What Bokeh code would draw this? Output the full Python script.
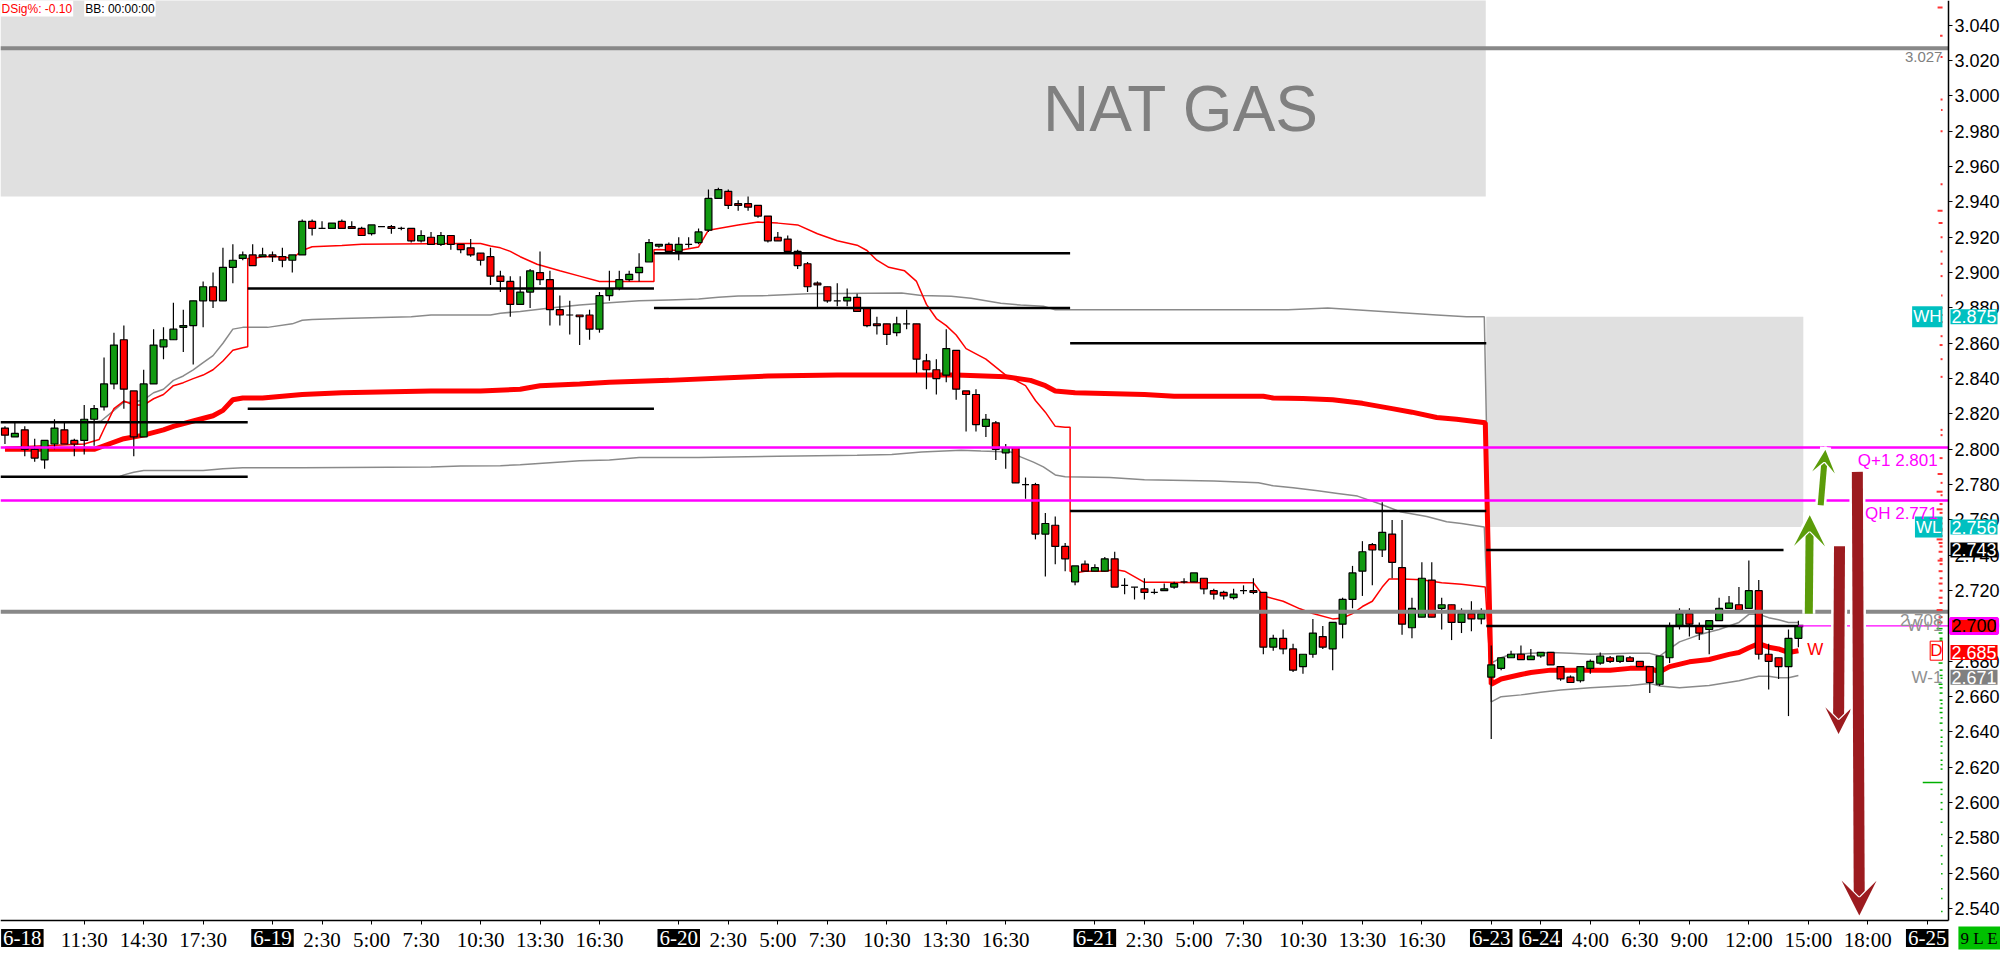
from bokeh.plotting import figure
from bokeh.models import (Range1d, FixedTicker, NumeralTickFormatter, Label,
                          Arrow, VeeHead, ColumnDataSource)
from bokeh.embed import file_html
from bokeh.resources import INLINE

# ---------------- candle data (30-min bars, NAT GAS) ----------------
opens = [2.812, 2.807, 2.811, 2.800, 2.794, 2.803, 2.811, 2.805, 2.805, 2.817,
         2.824, 2.837, 2.862, 2.833, 2.807, 2.837, 2.858, 2.862, 2.869, 2.870,
         2.884, 2.892, 2.884, 2.903, 2.908, 2.910, 2.909, 2.910, 2.909, 2.907,
         2.910, 2.929, 2.925, 2.925, 2.929, 2.926, 2.925, 2.922, 2.926, 2.926,
         2.925, 2.925, 2.918, 2.920, 2.916, 2.921, 2.916, 2.914, 2.911, 2.909,
         2.898, 2.895, 2.882, 2.889, 2.900, 2.896, 2.879, 2.876, 2.876, 2.876,
         2.868, 2.887, 2.891, 2.896, 2.900, 2.906, 2.915, 2.916, 2.912, 2.916,
         2.917, 2.924, 2.942, 2.946, 2.939, 2.939, 2.938, 2.932, 2.920, 2.919,
         2.912, 2.905, 2.894, 2.892, 2.884, 2.884, 2.886, 2.880, 2.871, 2.871,
         2.866, 2.871, 2.871, 2.850, 2.845, 2.842, 2.856, 2.833, 2.831, 2.813,
         2.815, 2.798, 2.801, 2.780, 2.780, 2.752, 2.757, 2.745, 2.725, 2.735,
         2.731, 2.731, 2.738, 2.723, 2.722, 2.721, 2.719, 2.720, 2.722, 2.725,
         2.725, 2.727, 2.720, 2.719, 2.716, 2.720, 2.720, 2.719, 2.688, 2.693,
         2.687, 2.677, 2.684, 2.694, 2.687, 2.701, 2.715, 2.731, 2.746, 2.743,
         2.752, 2.733, 2.699, 2.705, 2.726, 2.710, 2.712, 2.702, 2.707, 2.704,
         2.671, 2.676, 2.682, 2.684, 2.681, 2.683, 2.685, 2.677, 2.671, 2.669,
         2.676, 2.679, 2.682, 2.680, 2.682, 2.680, 2.677, 2.667, 2.682, 2.700,
         2.707, 2.700, 2.698, 2.703, 2.710, 2.712, 2.710, 2.720, 2.684, 2.682,
         2.677, 2.693]
highs = [2.813, 2.815, 2.813, 2.806, 2.805, 2.817, 2.815, 2.806, 2.825, 2.825,
         2.852, 2.866, 2.870, 2.833, 2.845, 2.868, 2.869, 2.883, 2.879, 2.884,
         2.895, 2.900, 2.914, 2.916, 2.912, 2.916, 2.914, 2.912, 2.914, 2.910,
         2.930, 2.930, 2.929, 2.928, 2.930, 2.929, 2.926, 2.927, 2.926, 2.927,
         2.926, 2.925, 2.924, 2.923, 2.923, 2.921, 2.916, 2.919, 2.911, 2.914,
         2.901, 2.898, 2.898, 2.902, 2.912, 2.901, 2.887, 2.884, 2.876, 2.879,
         2.889, 2.901, 2.901, 2.901, 2.911, 2.919, 2.916, 2.917, 2.920, 2.920,
         2.925, 2.947, 2.948, 2.947, 2.941, 2.943, 2.938, 2.932, 2.923, 2.921,
         2.913, 2.906, 2.895, 2.892, 2.894, 2.891, 2.888, 2.880, 2.875, 2.871,
         2.875, 2.879, 2.871, 2.854, 2.851, 2.868, 2.856, 2.833, 2.834, 2.820,
         2.816, 2.803, 2.801, 2.784, 2.781, 2.764, 2.762, 2.747, 2.734, 2.737,
         2.735, 2.739, 2.742, 2.727, 2.722, 2.727, 2.721, 2.724, 2.725, 2.727,
         2.730, 2.727, 2.721, 2.720, 2.721, 2.723, 2.727, 2.719, 2.695, 2.698,
         2.690, 2.684, 2.704, 2.700, 2.702, 2.716, 2.734, 2.748, 2.747, 2.770,
         2.760, 2.760, 2.716, 2.736, 2.736, 2.716, 2.712, 2.710, 2.714, 2.710,
         2.689, 2.682, 2.686, 2.689, 2.687, 2.685, 2.685, 2.677, 2.672, 2.677,
         2.681, 2.685, 2.683, 2.683, 2.683, 2.680, 2.677, 2.683, 2.702, 2.710,
         2.710, 2.702, 2.703, 2.716, 2.717, 2.722, 2.737, 2.726, 2.690, 2.682,
         2.698, 2.703]
lows = [2.803, 2.807, 2.796, 2.793, 2.789, 2.800, 2.803, 2.796, 2.797, 2.802,
        2.822, 2.834, 2.823, 2.796, 2.807, 2.837, 2.851, 2.862, 2.855, 2.848,
        2.869, 2.880, 2.884, 2.894, 2.907, 2.904, 2.909, 2.906, 2.903, 2.900,
        2.910, 2.921, 2.925, 2.925, 2.925, 2.925, 2.921, 2.921, 2.926, 2.922,
        2.924, 2.917, 2.917, 2.916, 2.915, 2.913, 2.911, 2.909, 2.904, 2.893,
        2.889, 2.875, 2.882, 2.880, 2.893, 2.870, 2.870, 2.865, 2.859, 2.862,
        2.866, 2.884, 2.890, 2.895, 2.895, 2.906, 2.914, 2.912, 2.907, 2.914,
        2.916, 2.923, 2.942, 2.936, 2.935, 2.935, 2.931, 2.917, 2.918, 2.912,
        2.902, 2.889, 2.880, 2.883, 2.881, 2.881, 2.878, 2.869, 2.865, 2.859,
        2.864, 2.868, 2.843, 2.834, 2.831, 2.838, 2.828, 2.810, 2.810, 2.807,
        2.794, 2.789, 2.781, 2.772, 2.749, 2.728, 2.735, 2.731, 2.723, 2.731,
        2.731, 2.731, 2.722, 2.718, 2.715, 2.715, 2.718, 2.720, 2.721, 2.724,
        2.725, 2.718, 2.715, 2.715, 2.715, 2.718, 2.718, 2.684, 2.686, 2.684,
        2.674, 2.673, 2.682, 2.687, 2.675, 2.693, 2.710, 2.717, 2.723, 2.739,
        2.727, 2.695, 2.693, 2.705, 2.705, 2.698, 2.692, 2.696, 2.697, 2.701,
        2.636, 2.675, 2.682, 2.681, 2.681, 2.682, 2.678, 2.669, 2.668, 2.668,
        2.673, 2.678, 2.679, 2.679, 2.680, 2.677, 2.662, 2.666, 2.679, 2.698,
        2.694, 2.692, 2.684, 2.703, 2.710, 2.709, 2.710, 2.681, 2.664, 2.670,
        2.649, 2.688]
closes = [2.808, 2.809, 2.800, 2.795, 2.805, 2.812, 2.803, 2.803, 2.817, 2.823,
          2.837, 2.859, 2.834, 2.807, 2.837, 2.859, 2.862, 2.868, 2.870, 2.884,
          2.892, 2.884, 2.903, 2.907, 2.910, 2.904, 2.910, 2.909, 2.907, 2.910,
          2.929, 2.925, 2.925, 2.928, 2.925, 2.925, 2.921, 2.927, 2.926, 2.925,
          2.925, 2.918, 2.921, 2.916, 2.921, 2.916, 2.913, 2.910, 2.907, 2.898,
          2.895, 2.882, 2.889, 2.901, 2.896, 2.879, 2.876, 2.876, 2.875, 2.868,
          2.887, 2.891, 2.896, 2.899, 2.903, 2.917, 2.916, 2.912, 2.916, 2.916,
          2.923, 2.942, 2.947, 2.938, 2.938, 2.937, 2.932, 2.918, 2.918, 2.912,
          2.904, 2.892, 2.893, 2.884, 2.884, 2.886, 2.878, 2.870, 2.870, 2.865,
          2.871, 2.871, 2.851, 2.845, 2.840, 2.857, 2.834, 2.831, 2.814, 2.817,
          2.800, 2.801, 2.781, 2.780, 2.752, 2.758, 2.745, 2.738, 2.734, 2.731,
          2.733, 2.738, 2.722, 2.723, 2.722, 2.719, 2.719, 2.721, 2.724, 2.725,
          2.730, 2.721, 2.718, 2.717, 2.718, 2.720, 2.719, 2.688, 2.693, 2.687,
          2.675, 2.684, 2.696, 2.688, 2.702, 2.715, 2.730, 2.742, 2.743, 2.753,
          2.736, 2.701, 2.710, 2.727, 2.705, 2.712, 2.702, 2.707, 2.704, 2.707,
          2.678, 2.682, 2.684, 2.681, 2.683, 2.685, 2.678, 2.670, 2.668, 2.677,
          2.680, 2.683, 2.680, 2.683, 2.680, 2.677, 2.668, 2.683, 2.700, 2.707,
          2.701, 2.696, 2.703, 2.710, 2.713, 2.709, 2.720, 2.684, 2.680, 2.677,
          2.693, 2.700]

# ---------------- indicator lines (bar index, price) ----------------
dvwap_x = [0, 4, 8, 9.5, 10, 11, 12, 13, 14, 15, 16, 17, 18, 19, 20, 21, 22, 23, 24, 24.5,
           24.5, 25, 26, 28, 29, 30, 31, 34, 36, 46, 48, 49, 50, 51, 52, 53.7, 56, 58, 60, 65.5,
           65.5, 66, 68, 70, 71, 72, 74, 76, 78, 80, 82, 84, 86, 87, 88, 89.2, 90.8, 92, 93, 94,
           95, 96, 97, 99, 101, 102, 103, 104, 105, 106, 107, 107.5,
           107.5, 108, 109, 111, 112, 113, 115, 117, 121, 124, 126, 127, 129, 130.7, 132, 134,
           135, 136, 137, 138, 139, 139.7, 141, 143, 145, 147, 149.4, 150]
dvwap_y = [2.801, 2.802, 2.803, 2.8055, 2.8115, 2.823, 2.8273, 2.825, 2.825, 2.8286, 2.831,
           2.836, 2.8377, 2.840, 2.842, 2.845, 2.850, 2.856, 2.8575, 2.858,
           2.908, 2.908, 2.909, 2.909, 2.908, 2.9125, 2.9146, 2.9153, 2.916, 2.9165, 2.9165,
           2.915, 2.914, 2.912, 2.909, 2.9047, 2.901, 2.898, 2.895, 2.895,
           2.913, 2.9131, 2.9125, 2.9145, 2.924, 2.925, 2.927, 2.9286, 2.928, 2.927, 2.922,
           2.918, 2.9155, 2.9125, 2.907, 2.903, 2.901, 2.895, 2.882, 2.874, 2.870, 2.8647,
           2.857, 2.851, 2.842, 2.839, 2.836, 2.8276, 2.821, 2.813, 2.8125, 2.8125,
           2.731, 2.730, 2.731, 2.731, 2.732, 2.731, 2.7247, 2.7247, 2.7245, 2.7245, 2.7245,
           2.717, 2.714, 2.7097, 2.707, 2.704, 2.7045, 2.707, 2.711, 2.714, 2.722, 2.7266,
           2.7266, 2.7262, 2.7245, 2.7236, 2.722, 2.667]

wvwap_x = [0, 9, 10, 12, 14, 16, 17, 19, 21, 22, 23, 24, 26, 28, 30, 34, 43, 48, 52, 54, 58,
           61, 67, 73, 77, 84, 96, 101, 103.5, 105, 106, 108, 115, 118, 127, 128, 131, 134,
           137, 140, 142, 144.5, 146.5, 149.4,
           150, 151, 153, 154, 156, 162, 164, 166, 167, 168, 170, 172, 174, 175, 176, 177,
           178, 179, 180, 181]
wvwap_y = [2.800, 2.800, 2.802, 2.806, 2.808, 2.811, 2.813, 2.816, 2.819, 2.822, 2.828, 2.829,
           2.829, 2.830, 2.831, 2.832, 2.833, 2.833, 2.834, 2.836, 2.837, 2.838, 2.839, 2.8405,
           2.8415, 2.842, 2.842, 2.841, 2.839, 2.836, 2.833, 2.832, 2.831, 2.830, 2.830, 2.829,
           2.8287, 2.828, 2.826, 2.823, 2.821, 2.818, 2.817, 2.815,
           2.667, 2.670, 2.6725, 2.6737, 2.675, 2.675, 2.676, 2.676, 2.674, 2.677, 2.6797,
           2.681, 2.6839, 2.685, 2.6877, 2.690, 2.688, 2.687, 2.685, 2.686]

upper_x = [0, 9, 9.7, 11, 12, 13, 14, 15, 16, 17, 18, 19, 20, 21, 22, 23, 24, 26.5, 29, 30,
           31, 34, 41, 43, 49, 50, 52, 55, 58, 61, 64, 67, 70, 72, 74, 77, 81, 90.5, 92.5,
           95.5, 97.5, 100.5, 102.5, 104.8, 106, 129.5, 133.5, 144.5, 147.5, 149.3,
           150, 151, 152, 154, 156, 158, 160, 164, 166, 167, 168, 169, 170, 171, 172, 173,
           174, 175, 176, 177, 178, 179, 180, 181]
upper_y = [2.8153, 2.8153, 2.816, 2.822, 2.8266, 2.8266, 2.828, 2.832, 2.834, 2.839, 2.8415,
           2.845, 2.849, 2.853, 2.860, 2.868, 2.869, 2.869, 2.871, 2.873, 2.8735, 2.874,
           2.875, 2.876, 2.876, 2.877, 2.878, 2.880, 2.8816, 2.883, 2.884, 2.8845, 2.885,
           2.886, 2.8867, 2.887, 2.888, 2.8884, 2.887, 2.8866, 2.8855, 2.8827, 2.8816,
           2.881, 2.879, 2.879, 2.8799, 2.876, 2.875, 2.875,
           2.679, 2.682, 2.684, 2.6845, 2.685, 2.6845, 2.684, 2.6845, 2.6845, 2.683, 2.687,
           2.691, 2.693, 2.695, 2.6966, 2.698, 2.700, 2.702, 2.7066, 2.7066, 2.7047, 2.7035,
           2.702, 2.702]

lower_x = [0, 11.5, 12, 13, 14, 20, 22, 24, 30, 43, 46, 50, 52, 55, 58, 61, 64, 70, 78, 86,
           89.5, 92.5, 96.5, 98.5, 101.5, 102.5, 103.8, 104.8, 106, 107, 111.5, 115, 122,
           126.5, 128, 130, 132.5, 134.5, 136.5, 138.8, 140.8, 143.5, 145.5, 147, 149.3,
           150, 151, 153, 155, 157, 160, 164, 166, 167, 169, 172, 175, 177, 178, 179, 180, 181]
lower_y = [2.7844, 2.7844, 2.7855, 2.787, 2.788, 2.788, 2.789, 2.7896, 2.7896, 2.790, 2.7905,
           2.7907, 2.7913, 2.7924, 2.7935, 2.794, 2.7953, 2.7953, 2.796, 2.7966, 2.797,
           2.7985, 2.7995, 2.799, 2.7985, 2.7957, 2.7927, 2.790, 2.7855, 2.7844, 2.784,
           2.7827, 2.782, 2.781, 2.7793, 2.7782, 2.7765, 2.775, 2.7735, 2.769, 2.7647,
           2.762, 2.759, 2.758, 2.756,
           2.657, 2.660, 2.661, 2.6625, 2.6637, 2.665, 2.6663, 2.6675, 2.666, 2.665, 2.6663,
           2.669, 2.6715, 2.6715, 2.6707, 2.6707, 2.672]

# prior-session level lines
lvl_x0 = [-0.45, -0.45, 24.5, 24.5, 65.5, 65.5, 107.5, 107.5, 149.5, 149.5]
lvl_x1 = [24.5, 24.5, 65.5, 65.5, 107.5, 107.5, 149.5, 149.5, 179.5, 181.5]
lvl_y = [2.8153, 2.7844, 2.891, 2.823, 2.911, 2.880, 2.860, 2.765, 2.743, 2.700]

# key horizontal levels
magenta_levels = [2.801, 2.771]
magenta_names = ["Q+1  2.801", "QH  2.771"]
gray_levels = [3.027, 2.708]

# shaded zones
zone_left = [-0.45, 149.5]
zone_right = [149.45, 181.5]
zone_bottom = [2.943, 2.756]
zone_top = [3.070, 2.875]

# arrows
arr_x0 = [182.05, 183.25, 185.15, 186.95]
arr_y0 = [2.7069, 2.7683, 2.7451, 2.7872]
arr_x1 = [182.15, 183.75, 185.05, 187.15]
arr_y1 = [2.7643, 2.8013, 2.6372, 2.5345]

# price-profile dashes next to the price axis (price, length in bars)
prof_red_y = [3.050, 3.034, 3.022, 2.998, 2.992, 2.980, 2.950, 2.935, 2.928, 2.920, 2.912,
              2.905, 2.898, 2.887, 2.880, 2.876, 2.872, 2.864, 2.859, 2.851, 2.841, 2.811,
              2.808, 2.795, 2.786, 2.781, 2.776, 2.774, 2.769, 2.766, 2.764, 2.761, 2.758,
              2.755, 2.754, 2.751, 2.749, 2.747, 2.745, 2.742, 2.738, 2.737, 2.735, 2.731,
              2.727, 2.724, 2.720, 2.716, 2.713, 2.709, 2.705, 2.702]
prof_red_len = [0.5, 0.25, 0.2, 0.2, 0.15, 0.2, 0.2, 0.5, 0.4, 0.2, 0.2, 0.2, 0.2, 0.15, 0.2,
                0.2, 0.2, 0.2, 0.3, 0.2, 0.2, 0.2, 0.2, 0.3, 0.5, 0.2, 0.6, 0.2, 0.3, 0.6,
                0.3, 0.2, 0.3, 0.5, 0.3, 0.3, 0.6, 0.4, 0.3, 0.4, 0.3, 0.5, 0.3, 0.4, 0.3,
                0.4, 0.3, 0.4, 0.3, 0.6, 0.4, 0.5]
prof_green_y = [2.6985, 2.696, 2.693, 2.692, 2.689, 2.686, 2.683, 2.6816, 2.679, 2.675,
                2.672, 2.6704, 2.667, 2.665, 2.662, 2.658, 2.656, 2.6535, 2.651, 2.648, 2.645,
                2.641, 2.637, 2.6345, 2.632, 2.628, 2.624, 2.6215, 2.619, 2.6114, 2.6075,
                2.6047, 2.600, 2.5962, 2.5889, 2.582, 2.5755, 2.570, 2.5653, 2.5597, 2.5513,
                2.5457, 2.5384]
prof_green_len = [0.6, 0.4, 0.3, 0.3, 0.4, 0.3, 0.3, 0.3, 0.4, 0.3, 0.3, 0.2, 0.4, 0.3, 0.3,
                  0.3, 0.2, 0.3, 0.3, 0.2, 0.3, 0.2, 0.2, 0.2, 0.2, 0.2, 0.2, 0.2, 0.2, 2.0,
                  0.2, 0.2, 0.2, 0.2, 0.2, 0.15, 0.15, 0.2, 0.15, 0.15, 0.15, 0.15, 0.15]

# axis ticks
time_ticks = [8, 14, 20, 32, 37, 42, 48, 54, 60, 73, 78, 83, 89, 95, 101,
              115, 120, 125, 131, 137, 143, 160, 165, 170, 176, 182, 188]
time_labels = ["11:30", "14:30", "17:30", "2:30", "5:00", "7:30", "10:30", "13:30", "16:30",
               "2:30", "5:00", "7:30", "10:30", "13:30", "16:30",
               "2:30", "5:00", "7:30", "10:30", "13:30", "16:30",
               "4:00", "6:30", "9:00", "12:00", "15:00", "18:00"]
date_ticks = [27, 68, 110, 150, 155, 194]
date_labels = ["6-19", "6-20", "6-21", "6-23", "6-24", "6-25"]
price_ticks = [round(2.54 + 0.02 * i, 3) for i in range(26)]

# ---------------- figure ----------------
XMIN, XAX = -0.45, 196.15          # plot area left edge / price-axis position
YAX, YMAX = 2.5333, 3.054          # time-axis position / plot area top
W, H = 2000, 951
PX_PER_BAR = 1948 / (XAX - XMIN)
PX_PER_UNIT = 920 / (YMAX - YAX)
XEND = XMIN + W / PX_PER_BAR
YSTART = YMAX - H / PX_PER_UNIT

p = figure(width=W, height=H, x_range=Range1d(XMIN, XEND), y_range=Range1d(YSTART, YMAX),
           y_axis_location="right", output_backend="svg", toolbar_location=None,
           min_border_left=0, min_border_top=0, min_border_right=0, min_border_bottom=0)
p.xgrid.visible = False
p.ygrid.visible = False
p.outline_line_color = None
p.background_fill_color = "white"
p.border_fill_color = "white"

FONT = "Liberation Sans"
NARROW = "Liberation Sans Narrow"

# shaded zones
p.quad(left=zone_left, right=zone_right, bottom=zone_bottom, top=zone_top,
       fill_color="#e0e0e0", line_color=None)

# bands and vwaps
p.line(upper_x, upper_y, line_color="#8a8a8a", line_width=1.5)
p.line(lower_x, lower_y, line_color="#8a8a8a", line_width=1.5)
p.line(wvwap_x, wvwap_y, line_color="#ff0000", line_width=5)
p.line(dvwap_x, dvwap_y, line_color="#ff0000", line_width=1.5)

# candles
idx = list(range(len(opens)))
src = ColumnDataSource(dict(
    x=idx, high=highs, low=lows,
    top=[max(o, c) for o, c in zip(opens, closes)],
    bottom=[min(o, c) for o, c in zip(opens, closes)],
    color=["#119a11" if c > o else "#ff0000" for o, c in zip(opens, closes)],
))
p.segment(x0="x", y0="high", x1="x", y1="low", source=src, line_color="black", line_width=1.2)
p.vbar(x="x", width=0.7, top="top", bottom="bottom", fill_color="color",
       line_color="black", line_width=1.2, source=src)

# level lines
p.segment(x0=lvl_x0, y0=lvl_y, x1=lvl_x1, y1=lvl_y, line_color="black", line_width=2.5)
p.segment(x0=[XMIN] * 2, y0=magenta_levels, x1=[XAX] * 2, y1=magenta_levels,
          line_color="#ff00ff", line_width=2.5)
p.segment(x0=[181.0], y0=[closes[-1]], x1=[XAX], y1=[closes[-1]],
          line_color="#ff00ff", line_width=1.2)
p.segment(x0=[XMIN] * 2, y0=gray_levels, x1=[XAX] * 2, y1=gray_levels,
          line_color="#888888", line_width=4)

# price profile next to the axis
PROF_END = 195.55
p.segment(x0=[PROF_END - l for l in prof_red_len], y0=prof_red_y,
          x1=[PROF_END] * len(prof_red_y), y1=prof_red_y, line_color="#ff3333", line_width=2)
p.segment(x0=[PROF_END - l for l in prof_green_len], y0=prof_green_y,
          x1=[PROF_END] * len(prof_green_y), y1=prof_green_y, line_color="#00b000", line_width=1.5)

# arrows
arr_colors = ["#5b9c09", "#5b9c09", "#9c1b1f", "#9c1b1f"]
arr_widths = [8, 6, 11, 11]
arr_heads = [40, 32, 36, 44]
for x0, y0, x1, y1, c, w, h in zip(arr_x0, arr_y0, arr_x1, arr_y1, arr_colors, arr_widths, arr_heads):
    p.add_layout(Arrow(x_start=x0, y_start=y0, x_end=x1, y_end=y1, line_color="white",
                       line_width=w + 5, end=None))
    p.add_layout(Arrow(x_start=x0, y_start=y0, x_end=x1, y_end=y1, line_color=c, line_width=w,
                       end=VeeHead(size=h, fill_color=c, line_color="white", line_width=2.5)))

# ---------------- axes (drawn at fixed data positions) ----------------
yax = p.yaxis[0]
yax.fixed_location = XAX
yax.bounds = (YAX, YMAX)
yax.ticker = FixedTicker(ticks=price_ticks)
yax.formatter = NumeralTickFormatter(format="0.000")
yax.major_label_text_font = FONT
yax.major_label_text_font_size = "18px"
yax.major_label_text_color = "black"
yax.axis_line_color = "black"
yax.axis_line_width = 1.5
yax.major_tick_in = 0
yax.major_tick_out = 4
yax.major_tick_line_color = "black"
yax.minor_tick_line_color = None
yax.major_label_standoff = 2

xax = p.xaxis[0]
xax.fixed_location = YAX
xax.bounds = (XMIN, XAX)
xax.ticker = FixedTicker(ticks=time_ticks + date_ticks)
overrides = {t: s for t, s in zip(time_ticks, time_labels)}
overrides.update({t: " " for t in date_ticks})
xax.major_label_overrides = overrides
xax.major_label_text_font = NARROW
xax.major_label_text_font_size = "21px"
xax.major_label_text_color = "black"
xax.axis_line_color = "black"
xax.axis_line_width = 1.5
xax.major_tick_in = 0
xax.major_tick_out = 4
xax.minor_tick_line_color = None
xax.major_label_standoff = 3

# date boxes under the axis
DATE_Y = YMAX - 937.5 / PX_PER_UNIT
for t, s in zip(date_ticks, date_labels):
    p.add_layout(Label(x=t, y=DATE_Y, text=s, text_align="center", text_baseline="middle",
                       text_font=NARROW, text_font_size="21px", text_color="white",
                       background_fill_color="black", padding=2))
p.add_layout(Label(x=3.9, y=DATE_Y, text="6-18", text_align="right", text_baseline="middle",
                   text_font=NARROW, text_font_size="21px", text_color="white",
                   background_fill_color="black", padding=2))
p.add_layout(Label(x=197.15, y=DATE_Y, text="9 L E", text_align="left", text_baseline="middle",
                   text_font=NARROW, text_font_size="17px", text_color="black",
                   background_fill_color="#00c000", padding=2))

# title watermark
p.add_layout(Label(x=118.7, y=2.9925, text="NAT GAS", text_align="center", text_baseline="middle",
                   text_font=FONT, text_font_size="64px", text_color="#808080"))

# top status text
p.add_layout(Label(x=XMIN, y=YMAX, text="DSig%: -0.10", text_align="left", text_baseline="top",
                   text_font=FONT, text_font_size="12px", text_color="#ff0000",
                   background_fill_color="white", padding=1))
p.add_layout(Label(x=8.0, y=YMAX, text="BB: 00:00:00", text_align="left", text_baseline="top",
                   text_font=FONT, text_font_size="12px", text_color="black",
                   background_fill_color="white", padding=1))

# ---------------- price tags ----------------
TAG_X = 196.35
IN_X = 195.54
tags = [(2.875, "2.875", "#00c0c0", "white"),
        (2.756, "2.756", "#00c0c0", "white"),
        (2.743, "2.743", "black", "white"),
        (2.685, "2.685", "#ff0000", "white"),
        (2.671, "2.671", "#808080", "white")]
for y, s, bg, fg in tags:
    p.add_layout(Label(x=TAG_X, y=y, text=s, text_align="left", text_baseline="middle",
                       text_font=FONT, text_font_size="18px", text_color=fg,
                       background_fill_color=bg, padding=1))
p.add_layout(Label(x=TAG_X, y=closes[-1], text="2.700", text_align="left", text_baseline="middle",
                   text_font=FONT, text_font_size="18px", text_color="black",
                   background_fill_color="#ff0000", border_line_color="#ff00ff",
                   border_line_width=3, padding=1))

for y, s in [(2.875, "WH"), (2.756, "WL")]:
    p.add_layout(Label(x=IN_X, y=y, text=s, text_align="right", text_baseline="middle",
                       text_font=FONT, text_font_size="17px", text_color="white",
                       background_fill_color="#00c0c0", padding=1))

for lvl, s in zip(magenta_levels, magenta_names):
    p.add_layout(Label(x=IN_X, y=lvl - 0.0022, text=s, text_align="right", text_baseline="top",
                       text_font=FONT, text_font_size="17px", text_color="#ff00ff"))

p.add_layout(Label(x=IN_X, y=gray_levels[0] - 0.002, text="3.027", text_align="right",
                   text_baseline="top", text_font=FONT, text_font_size="15px", text_color="#808080"))
p.add_layout(Label(x=IN_X, y=2.7035, text="2.708", text_align="right", text_baseline="middle",
                   text_font=FONT, text_font_size="17px", text_color="#909090"))
p.add_layout(Label(x=IN_X, y=2.700, text="W+1", text_align="right", text_baseline="middle",
                   text_font=FONT, text_font_size="17px", text_color="#909090"))
p.add_layout(Label(x=IN_X, y=2.671, text="W-1", text_align="right", text_baseline="middle",
                   text_font=FONT, text_font_size="17px", text_color="#909090"))
p.add_layout(Label(x=IN_X, y=2.686, text="D", text_align="right", text_baseline="middle",
                   text_font=FONT, text_font_size="17px", text_color="#ff0000",
                   background_fill_color="white", border_line_color="#ff0000", padding=0))
p.add_layout(Label(x=181.9, y=2.6865, text="W", text_align="left", text_baseline="middle",
                   text_font=FONT, text_font_size="17px", text_color="#ff0000"))

open("out.html", "w").write(file_html(p, INLINE))
